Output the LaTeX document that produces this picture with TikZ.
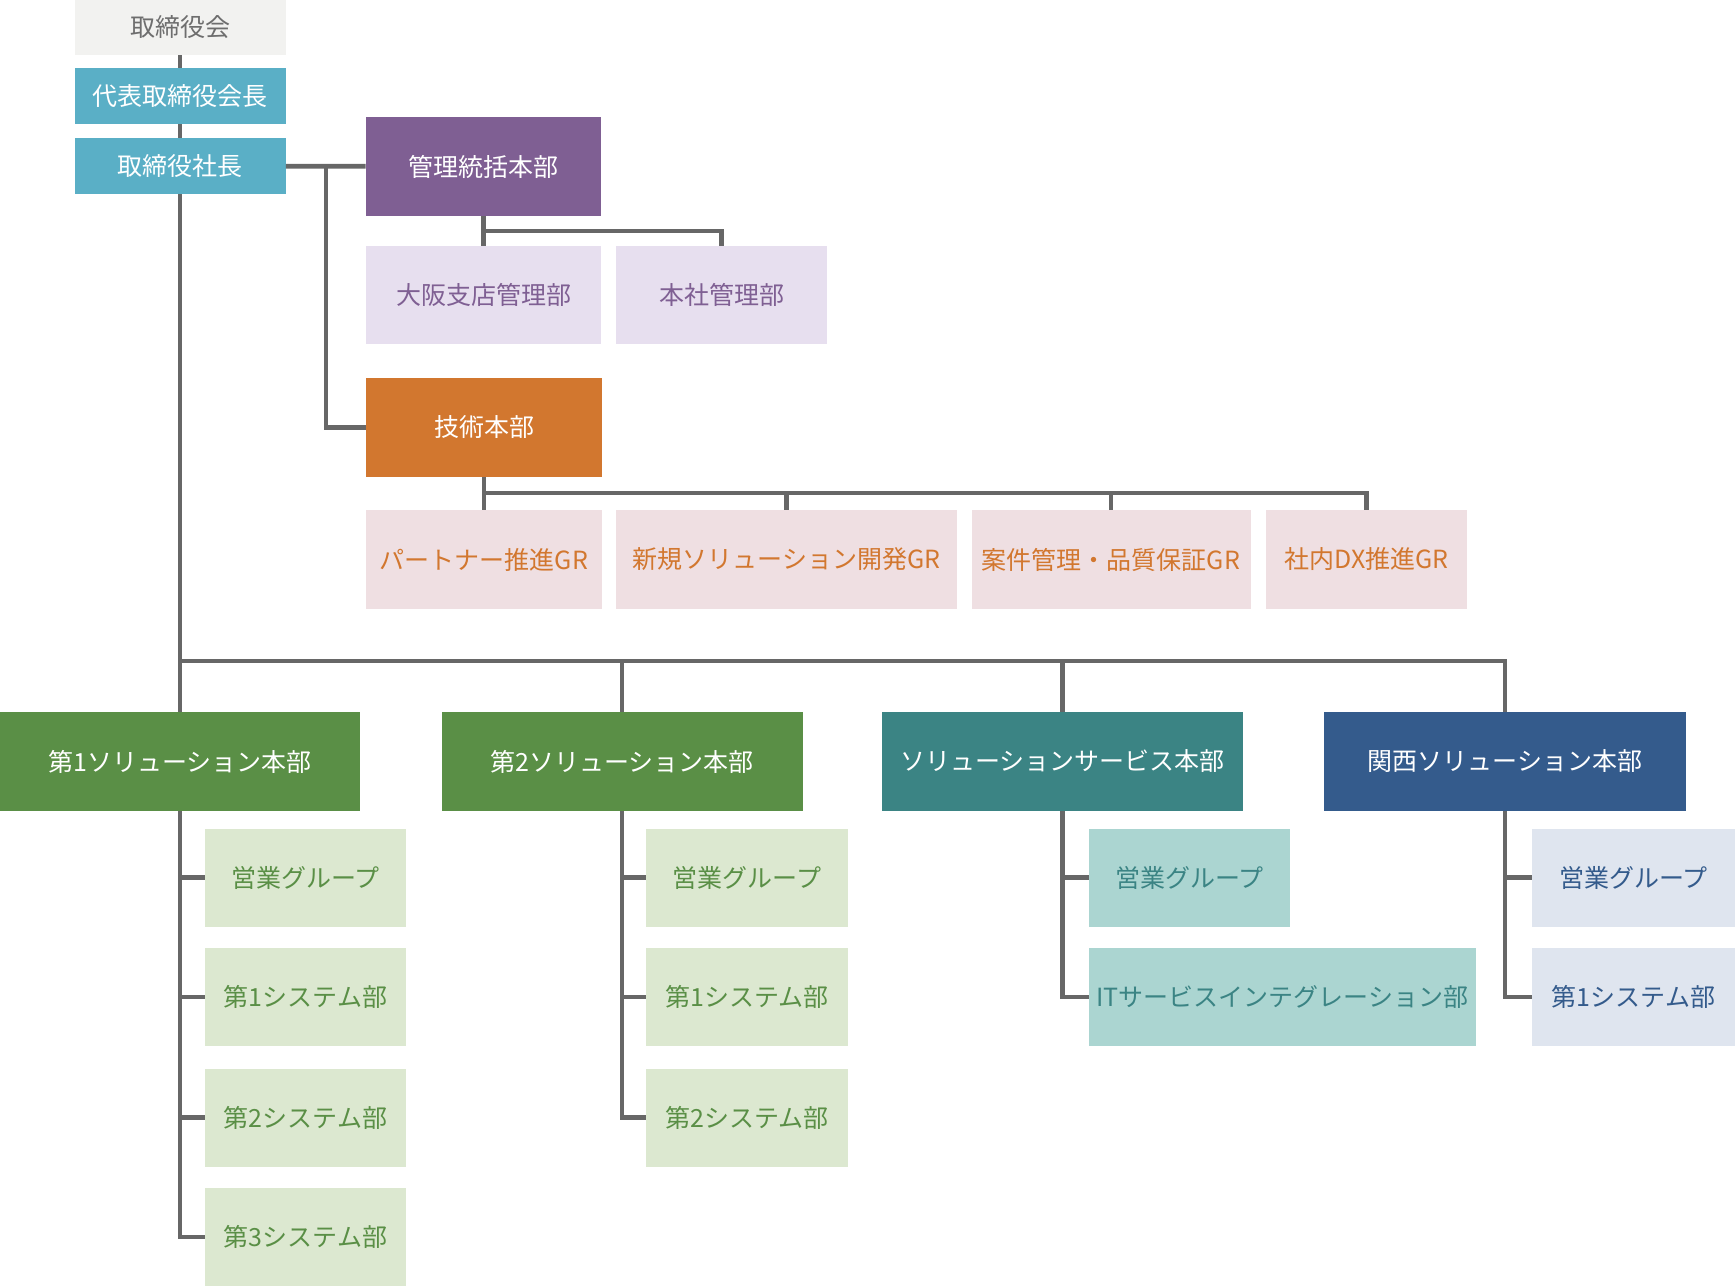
\documentclass[tikz,border=0pt]{standalone}
\usepackage{fontspec}
\newfontfamily\jp{Noto Sans CJK JP}
\usetikzlibrary{positioning}

\definecolor{linegray}{HTML}{676767}
\definecolor{boardbg}{HTML}{F2F2F0}
\definecolor{boardtx}{HTML}{6E6E6E}
\definecolor{execblue}{HTML}{5AAFC6}
\definecolor{kanri}{HTML}{7F5F93}
\definecolor{kanrilt}{HTML}{E7DFEF}
\definecolor{giju}{HTML}{D2772F}
\definecolor{gijult}{HTML}{EFDFE2}
\definecolor{solgreen}{HTML}{5A8F46}
\definecolor{solgreenlt}{HTML}{DCE8D0}
\definecolor{svcteal}{HTML}{3B8484}
\definecolor{svctealt}{HTML}{ABD5D1}
\definecolor{kansai}{HTML}{345B8C}
\definecolor{kansailt}{HTML}{DFE5EF}

\tikzset{
    box/.style={rectangle, inner sep=0pt, minimum height=49.5pt,
        font=\jp\fontsize{12.5}{15}\selectfont},
    head/.style={box, fill=#1, text=white},
    unit/.style 2 args={box, fill=#1, text=#2},
    link/.style={draw=linegray, line width=2.4pt}
}

\begin{document}
\begin{tikzpicture}[x=0.5pt, y=-0.5pt]
            \useasboundingbox (0,0) rectangle (1735,1288);

            % top of the company
            \node[unit={boardbg}{boardtx}, minimum width=105.5pt, minimum height=27.5pt] (board) at (180,27.5) {取締役会};
            \node[head=execblue, minimum width=105.5pt, minimum height=28pt] (chair) at (180,96) {代表取締役会長};
            \node[head=execblue, minimum width=105.5pt, minimum height=28pt] (pres) at (180,166) {取締役社長};

            \node[head=kanri, minimum width=117.5pt] (kanri) at (483.5,166.5) {管理統括本部};
            \node[unit={kanrilt}{kanri}, minimum width=117.5pt, minimum height=49pt] (osaka) at (483.5,295) {大阪支店管理部};
            \node[unit={kanrilt}{kanri}, minimum width=105.5pt, minimum height=49pt] (honsha) at (721.5,295) {本社管理部};

            \node[head=giju, minimum width=118pt] (giju) at (484,427.5) {技術本部};
            \node[unit={gijult}{giju}, minimum width=118pt] (partner) at (484,559.5) {パートナー推進GR};
            \node[unit={gijult}{giju}, minimum width=170.5pt] (shinki) at (786.5,559.5) {新規ソリューション開発GR};
            \node[unit={gijult}{giju}, minimum width=139.5pt] (anken) at (1111,559.5) {案件管理・品質保証GR};
            \node[unit={gijult}{giju}, minimum width=100.5pt] (dx) at (1366.5,559.5) {社内DX推進GR};

            % solution divisions
            \node[head=solgreen, minimum width=180pt] (sol1) at (180,761.5) {第1ソリューション本部};
            \node[head=solgreen, minimum width=180.5pt] (sol2) at (622,761.5) {第2ソリューション本部};
            \node[head=svcteal, minimum width=180.5pt] (svc) at (1062.5,761.5) {ソリューションサービス本部};
            \node[head=kansai, minimum width=181pt] (kns) at (1505,761.5) {関西ソリューション本部};

            \node[unit={solgreenlt}{solgreen}, minimum width=100.5pt, minimum height=49pt] (s1a) at (305.5,877.5) {営業グループ};
            \node[unit={solgreenlt}{solgreen}, minimum width=100.5pt, minimum height=49pt] (s1b) at (305.5,997) {第1システム部};
            \node[unit={solgreenlt}{solgreen}, minimum width=100.5pt, minimum height=49pt] (s1c) at (305.5,1117.5) {第2システム部};
            \node[unit={solgreenlt}{solgreen}, minimum width=100.5pt, minimum height=49pt] (s1d) at (305.5,1237) {第3システム部};

            \node[unit={solgreenlt}{solgreen}, minimum width=101pt, minimum height=49pt] (s2a) at (747,877.5) {営業グループ};
            \node[unit={solgreenlt}{solgreen}, minimum width=101pt, minimum height=49pt] (s2b) at (747,997) {第1システム部};
            \node[unit={solgreenlt}{solgreen}, minimum width=101pt, minimum height=49pt] (s2c) at (747,1117.5) {第2システム部};

            \node[unit={svctealt}{svcteal}, minimum width=100.5pt, minimum height=49pt] (sva) at (1189.5,877.5) {営業グループ};
            \node[unit={svctealt}{svcteal}, minimum width=193.5pt, minimum height=49pt] (svb) at (1282.5,997) {ITサービスインテグレーション部};

            \node[unit={kansailt}{kansai}, minimum width=101.5pt, minimum height=49pt] (ka) at (1633.5,877.5) {営業グループ};
            \node[unit={kansailt}{kansai}, minimum width=101.5pt, minimum height=49pt] (kb) at (1633.5,997) {第1システム部};

            % junction points
            \coordinate (fork) at (326,166);
            \coordinate (kjoin) at (483.5,231);
            \coordinate (gjoin) at (484,493);
            \coordinate (hub) at (180,661);

            \draw[link] (board) -- (chair);
            \draw[link] (chair) -- (pres);
            \draw[link] (pres) -- (kanri);
            \draw[link] (fork) |- (giju.west);
            \draw[link] (kanri) -- (osaka);
            \draw[link] (kjoin) -| (honsha.north);
            \draw[link] (giju) -- (partner);
            \foreach \n in {shinki,anken,dx}
                \draw[link] (gjoin) -| (\n.north);

            \draw[link] (pres) -- (sol1);
            \foreach \n in {sol2,svc,kns}
                \draw[link] (hub) -| (\n.north);

            \foreach \n in {s1a,s1b,s1c,s1d}
                \draw[link] (sol1.south) |- (\n.west);
            \foreach \n in {s2a,s2b,s2c}
                \draw[link] (sol2.south) |- (\n.west);
            \foreach \n in {sva,svb}
                \draw[link] (svc.south) |- (\n.west);
            \foreach \n in {ka,kb}
                \draw[link] (kns.south) |- (\n.west);
        \end{tikzpicture}
\end{document}
